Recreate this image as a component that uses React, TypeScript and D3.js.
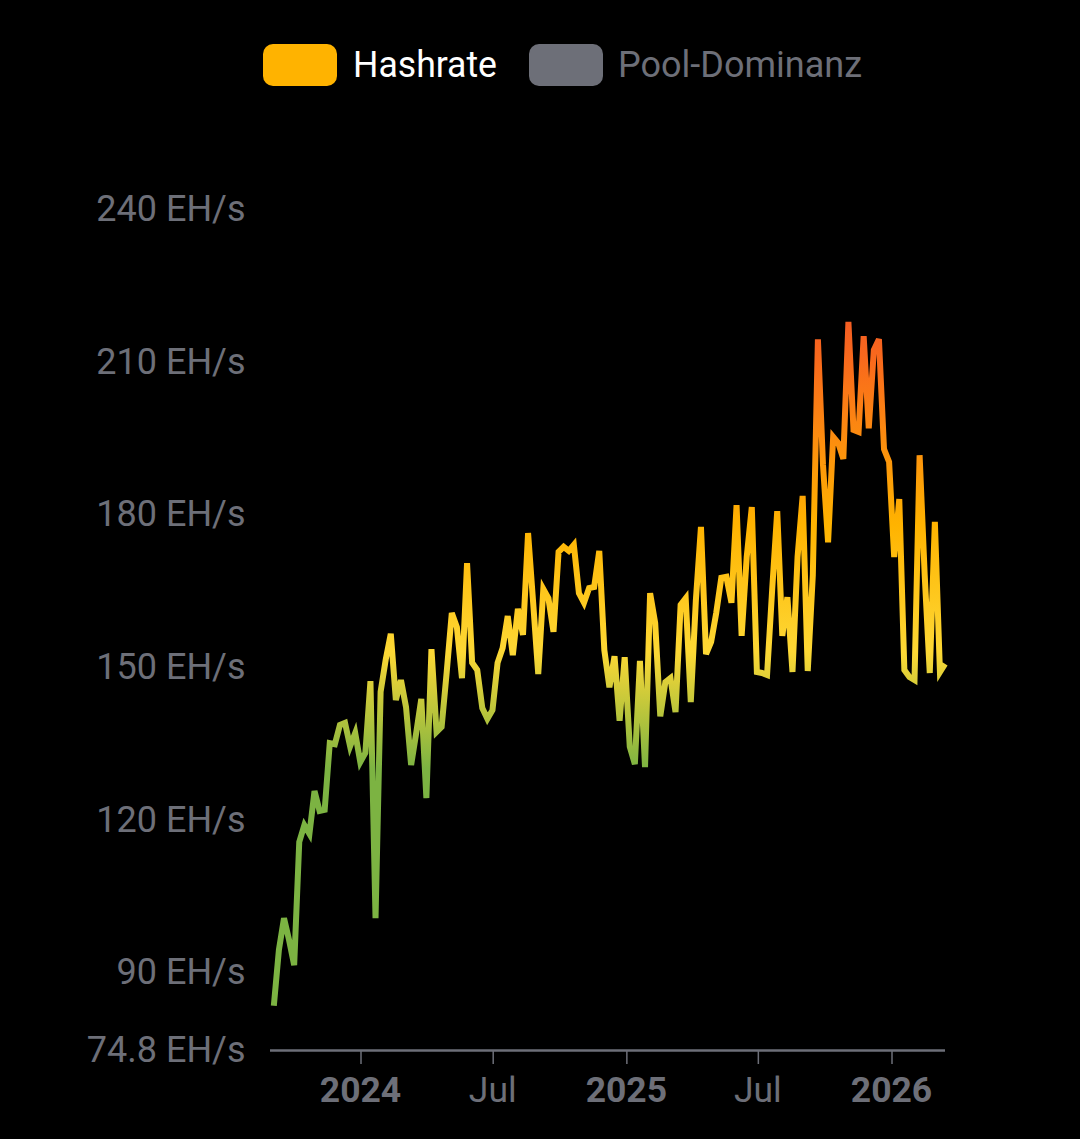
import React from "react";
import * as d3 from "d3";

const hashrate = [
  83.4, 94.4, 100.6, 96.3, 91.4, 115.6, 118.9, 117.2, 125.6, 121.7, 121.9, 135.0,
  134.8, 138.6, 139.0, 134.4, 137.0, 131.3, 133.1, 147.2, 100.6, 145.1, 151.4, 156.5,
  143.5, 147.4, 142.1, 130.7, 137.0, 143.7, 124.2, 153.5, 137.2, 138.2, 149.0, 160.6,
  157.8, 147.8, 170.4, 150.8, 149.4, 141.9, 139.8, 141.5, 150.8, 153.7, 160.0, 152.3,
  161.4, 156.3, 176.3, 162.6, 148.6, 165.3, 163.5, 156.9, 172.6, 173.6, 172.8, 174.0,
  164.5, 162.6, 165.5, 165.7, 172.8, 153.3, 146.0, 152.1, 139.4, 151.9, 134.3, 130.9,
  151.2, 130.3, 164.5, 158.6, 140.3, 147.0, 147.8, 141.1, 162.2, 163.5, 143.1, 163.1,
  177.5, 152.5, 154.9, 160.6, 167.5, 167.7, 162.6, 181.8, 156.1, 171.6, 181.4, 149.0,
  148.8, 148.4, 165.1, 180.6, 156.1, 163.7, 149.0, 171.6, 183.6, 149.2, 168.1, 214.4,
  189.7, 174.5, 195.2, 194.0, 190.9, 217.8, 196.6, 196.2, 215.0, 196.9, 212.3, 214.4,
  192.8, 190.3, 171.6, 183.0, 149.4, 148.0, 147.4, 191.6, 168.1, 148.8, 178.5, 149.0,
  150.6,
];
const firstWeek = new Date(2023, 8, 3);

const yTicks = [74.8, 90, 120, 150, 180, 210, 240];
const xTicks = [
  { date: new Date(2024, 0, 1), label: "2024", bold: true },
  { date: new Date(2024, 6, 1), label: "Jul", bold: false },
  { date: new Date(2025, 0, 1), label: "2025", bold: true },
  { date: new Date(2025, 6, 1), label: "Jul", bold: false },
  { date: new Date(2026, 0, 1), label: "2026", bold: true },
];

const gradientValues = [130, 153, 178, 210, 240];
const gradientColors = ["#7cb342", "#fdd835", "#ffb300", "#f96a1c", "#e53935"];

const GREY = "#6d6f78";
const FONT = "Roboto, sans-serif";

const App = () => {
  const x = d3
    .scaleTime()
    .domain([new Date(2024, 0, 1), new Date(2026, 0, 1)])
    .range([361, 892]);
  const y = d3.scaleLinear().domain([74.8, 240]).range([1049.5, 209]);

  const line = d3
    .line<number>()
    .x((_, i) => x(d3.timeDay.offset(firstWeek, i * 7)))
    .y((d) => y(d));

  return (
    <svg
      width={1080}
      height={1139}
      style={{ position: "absolute", left: 0, top: 0, background: "#000" }}
      fontFamily={FONT}
    >
      <defs>
        <linearGradient
          id="hashrate-gradient"
          gradientUnits="userSpaceOnUse"
          x1={0}
          x2={0}
          y1={y(gradientValues[0])}
          y2={y(gradientValues[gradientValues.length - 1])}
        >
          {gradientValues.map((v, i) => (
            <stop
              key={v}
              offset={
                (v - gradientValues[0]) /
                (gradientValues[gradientValues.length - 1] - gradientValues[0])
              }
              stopColor={gradientColors[i]}
            />
          ))}
        </linearGradient>
      </defs>

      {/* legend */}
      <rect x={263} y={44} width={74} height={42} rx={10} fill="#ffb300" />
      <text x={353} y={77} fontSize={36} fill="#fff" textLength={144} lengthAdjust="spacingAndGlyphs">
        Hashrate
      </text>
      <rect x={529} y={44} width={74} height={42} rx={10} fill={GREY} />
      <text x={618} y={77} fontSize={36} fill={GREY} textLength={244} lengthAdjust="spacingAndGlyphs">
        Pool-Dominanz
      </text>

      {/* y labels */}
      {yTicks.map((t) => (
        <text key={t} x={245.5} y={y(t) + 12} textAnchor="end" fontSize={36} fill={GREY}>
          {t} EH/s
        </text>
      ))}

      {/* x axis */}
      <line x1={270} x2={945} y1={1050.5} y2={1050.5} stroke={GREY} strokeWidth={2.5} />
      {xTicks.map((t) => (
        <g key={t.date.getTime()} transform={`translate(${x(t.date)},0)`}>
          <line y1={1050} y2={1064} stroke={GREY} strokeWidth={1.5} />
          <text
            x={-0.5}
            y={1102}
            textAnchor="middle"
            fontSize={35.5}
            fontWeight={t.bold ? 700 : 400}
            fill={GREY}
          >
            {t.label}
          </text>
        </g>
      ))}

      <path
        d={line(hashrate)!}
        fill="none"
        stroke="url(#hashrate-gradient)"
        strokeWidth={6}
      />
    </svg>
  );
};

export default App;
